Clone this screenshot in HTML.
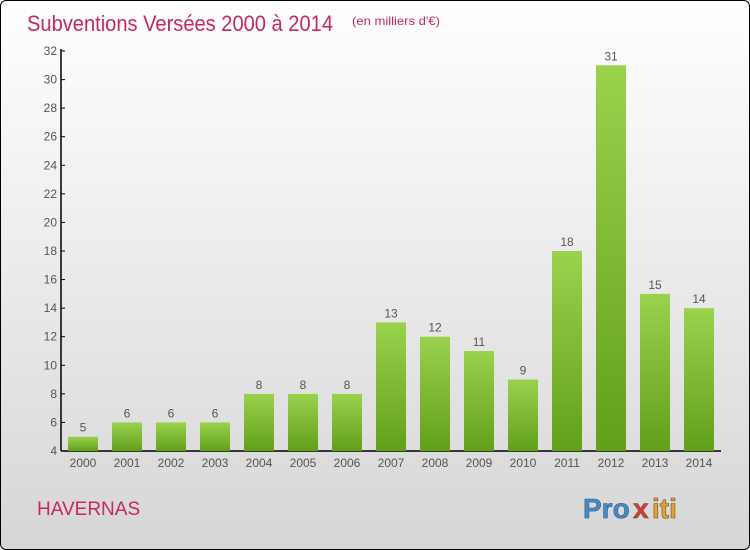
<!DOCTYPE html>
<html><head><meta charset="utf-8"><style>
body{margin:0;width:750px;height:550px;overflow:hidden;font-family:"Liberation Sans",sans-serif}
#frame{position:absolute;left:0;top:0;width:748px;height:548px;border:1px solid #000;border-radius:6px;background:linear-gradient(#ffffff,#d6d6d6);overflow:hidden}
</style></head><body>
<div id="frame">
<svg width="750" height="550" id="chart">
<defs><linearGradient id="g" x1="0" y1="0" x2="0" y2="1"><stop offset="0" stop-color="#9ad24c"/><stop offset="1" stop-color="#62a01a"/></linearGradient></defs>
<text x="26" y="30" font-size="22" fill="#c8285a" textLength="306" lengthAdjust="spacingAndGlyphs">Subventions Versées 2000 à 2014</text>
<text x="351" y="24" font-size="12" fill="#c8285a" textLength="88" lengthAdjust="spacingAndGlyphs">(en milliers d'€)</text>
<text x="36" y="514" font-size="19" fill="#c8285a">HAVERNAS</text>
<g font-size="28" font-weight="bold" font-family="Liberation Sans, sans-serif" stroke="#555" stroke-width="0.6">
<text x="582" y="517" fill="#3a8ed8">Pro</text><text x="632" y="517" fill="#e23a2a">x</text><text x="651" y="517" fill="#f0a020">iti</text></g>
<g id="axes"></g><g id="bars"></g>
</svg></div>
<script>
const years=["2000","2001","2002","2003","2004","2005","2006","2007","2008","2009","2010","2011","2012","2013","2014"];
const values=[5,6,6,6,8,8,8,13,12,11,9,18,31,15,14];
const yTicks=[4,6,8,10,12,14,16,18,20,22,24,26,28,30,32];
const NS="http://www.w3.org/2000/svg";
const y=v=>450-(v-4)*400/28;
const x=i=>82+44*i;
function mk(tag,attrs,parent,txt){const e=document.createElementNS(NS,tag);for(const k in attrs)e.setAttribute(k,attrs[k]);if(txt!==undefined)e.textContent=txt;parent.appendChild(e);return e;}
const ax=document.getElementById('axes'),bg=document.getElementById('bars');
let a=mk('line',{x1:60,y1:y(32)-2,x2:60,y2:450,stroke:'#000','stroke-width':1.5},ax);


a=mk('line',{x1:60,y1:450,x2:720,y2:450,stroke:'#000','stroke-width':1.5},ax);


yTicks.forEach(t=>{
 const l=mk('line',{x1:60,x2:64,y1:y(t),y2:y(t),stroke:'#000'},ax);
 
 
 const tx=mk('text',{x:56,y:y(t)+4,'text-anchor':'end','font-size':12,fill:'#555'},ax,t);
 
 
});
values.forEach((v,i)=>{
 const r=mk('rect',{x:x(i)-15,y:y(v),width:30,height:450-y(v),fill:'url(#g)'},bg);
 
 
 const vl=mk('text',{x:x(i),y:y(v)-5,'text-anchor':'middle','font-size':12,fill:'#555'},bg,v);
 
 
 const xl=mk('text',{x:x(i),y:466,'text-anchor':'middle','font-size':12,fill:'#555'},bg,years[i]);
 
 
});
</script>
</body></html>
